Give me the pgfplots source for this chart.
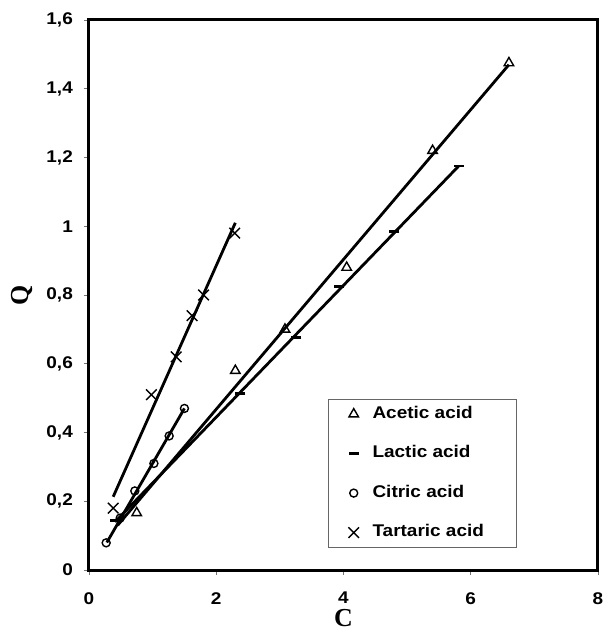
\documentclass[border=0pt]{standalone}
\usepackage{fontspec}
\setmainfont{Liberation Sans}
\newfontfamily\tickfont[FakeStretch=1.12]{Liberation Sans}
\newfontfamily\labfont{Liberation Serif}
\usepackage{pgfplots}
\pgfplotsset{compat=1.18}

\begin{document}
\begin{tikzpicture}
\begin{axis}[
    scale only axis,
    width=509bp, height=550bp,
    xmin=0, xmax=8, ymin=0, ymax=1.6,
    xtick={0,2,4,6,8},
    ytick={0,0.2,0.4,0.6,0.8,1,1.2,1.4,1.6},
    tick pos=left,
    tick align=outside,
    major tick length=5bp,
    tick style={black!55, line width=0.6bp},
    axis line style={line width=3bp},
    tick label style={font=\tickfont\bfseries\fontsize{17}{19}\selectfont, inner sep=0pt},
    /pgf/number format/use comma,
    /pgf/number format/assume math mode=true,
    xticklabel style={yshift=-17bp},
    yticklabel style={xshift=-11bp},
    xlabel={C}, ylabel={Q},
    label style={font=\labfont\bfseries\fontsize{26}{28}\selectfont},
    xlabel style={at={(axis description cs:0.5,-0.072)}, anchor=north, inner sep=0pt},
    ylabel style={at={(axis description cs:-0.1316,0.5)}, anchor=center, inner sep=0pt},
    legend cell align=left,
    legend style={at={(0.4696,0.311)}, anchor=north west,
        draw=black!60, line width=0.8bp,
        font=\tickfont\bfseries\fontsize{17}{19}\selectfont,
        inner xsep=20bp, inner ysep=7bp, row sep=24bp,
        nodes={inner sep=0pt, text height=12bp, text depth=3.5bp},
        /tikz/column sep=13.5bp},
]
% fitted lines
\addplot[black, line width=2.8bp, forget plot] coordinates {(0.45,0.13) (6.6,1.47)};
\addplot[black, line width=2.8bp, forget plot] coordinates {(0.41,0.14) (5.81,1.175)};
\addplot[black, line width=2.8bp, forget plot] coordinates {(0.28,0.08) (1.5,0.47)};
\addplot[black, line width=2.8bp, forget plot] coordinates {(0.38,0.213) (2.3,1.01)};

% measured points
\addplot[black, only marks, mark=triangle, mark size=5.5bp, mark options={line width=1.4bp}]
    coordinates {(0.75,0.166) (2.3,0.58) (3.08,0.70) (4.05,0.88) (5.4,1.22) (6.6,1.475)};
\addlegendentry{\makebox[124bp][l]{Acetic acid}}
\addplot[black, only marks, mark=-, mark size=5bp, mark options={line width=2.8bp}]
    coordinates {(0.41,0.143) (2.38,0.513) (3.26,0.676) (3.93,0.825) (4.8,0.985) (5.81,1.175)};
\addlegendentry{\makebox[124bp][l]{Lactic acid}}
\addplot[black, only marks, mark=o, mark size=4bp, mark options={line width=1.4bp}]
    coordinates {(0.27,0.079) (0.49,0.151) (0.72,0.23) (1.02,0.31) (1.26,0.39) (1.5,0.47)};
\addlegendentry{\makebox[124bp][l]{Citric acid}}
\addplot[black, only marks, mark=x, mark size=7.5bp, mark options={line width=1.4bp}]
    coordinates {(0.38,0.18) (0.98,0.51) (1.37,0.62) (1.62,0.74) (1.8,0.80) (2.29,0.98)};
\addlegendentry{\makebox[124bp][l]{Tartaric acid}}

\coordinate (bl) at (rel axis cs:0,0);
\coordinate (tr) at (rel axis cs:1,1);
\end{axis}
\pgfresetboundingbox
\path ([shift={(-89bp,-65bp)}]bl) rectangle ([shift={(6bp,20bp)}]tr);
\end{tikzpicture}
\end{document}
